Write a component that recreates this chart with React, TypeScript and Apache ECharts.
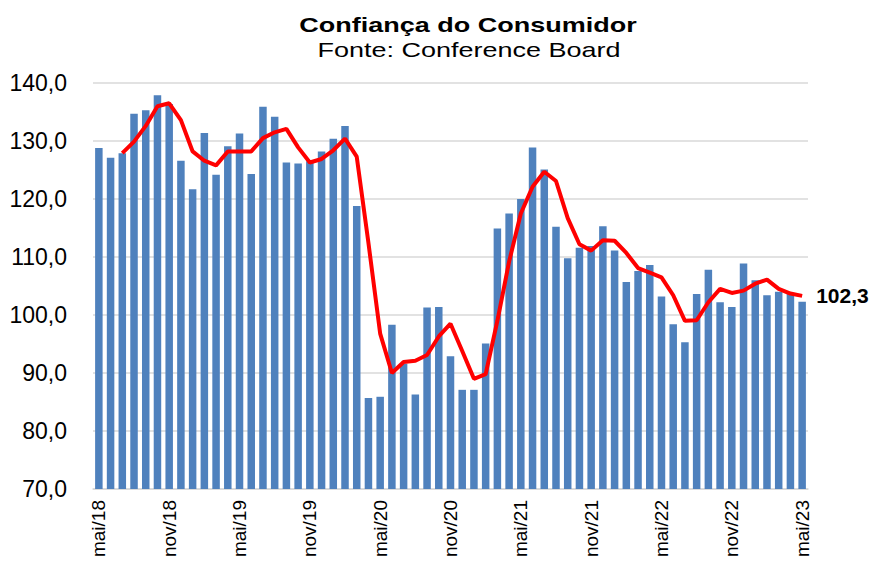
import React, { useEffect, useRef } from "react";
import * as echarts from "echarts";

const months = [
  "mai/18","jun/18","jul/18","ago/18","set/18","out/18","nov/18","dez/18",
  "jan/19","fev/19","mar/19","abr/19","mai/19","jun/19","jul/19","ago/19","set/19","out/19","nov/19","dez/19",
  "jan/20","fev/20","mar/20","abr/20","mai/20","jun/20","jul/20","ago/20","set/20","out/20","nov/20","dez/20",
  "jan/21","fev/21","mar/21","abr/21","mai/21","jun/21","jul/21","ago/21","set/21","out/21","nov/21","dez/21",
  "jan/22","fev/22","mar/22","abr/22","mai/22","jun/22","jul/22","ago/22","set/22","out/22","nov/22","dez/22",
  "jan/23","fev/23","mar/23","abr/23","mai/23",
];

const confidence = [
  128.8, 127.1, 127.9, 134.7, 135.3, 137.9, 136.4, 126.6,
  121.7, 131.4, 124.2, 129.1, 131.3, 124.3, 135.9, 134.2, 126.3, 126.1, 126.5, 128.2,
  130.4, 132.6, 118.8, 85.7, 85.9, 98.3, 91.6, 86.3, 101.3, 101.4, 92.9, 87.1,
  87.1, 95.1, 114.9, 117.5, 120.0, 128.9, 125.1, 115.2, 109.8, 111.6, 111.9, 115.3,
  111.1, 105.7, 107.6, 108.6, 103.2, 98.4, 95.3, 103.6, 107.8, 102.2, 101.4, 108.9,
  106.0, 103.4, 104.0, 103.7, 102.3,
];

// red line (3-month average as drawn in the reference), read point by point
const trend: (number | null)[] = [
  null, null, 127.9, 129.9, 132.6, 136.0, 136.5, 133.6,
  128.2, 126.6, 125.8, 128.2, 128.2, 128.2, 130.5, 131.5, 132.1, 128.9, 126.3, 126.9,
  128.4, 130.4, 127.3, 112.4, 96.8, 90.0, 91.9, 92.1, 93.1, 96.3, 98.5, 93.8,
  89.0, 89.8, 99.0, 109.2, 117.5, 122.1, 124.7, 123.1, 116.7, 112.2, 111.1, 112.9,
  112.8, 110.7, 108.1, 107.3, 106.5, 103.4, 99.0, 99.1, 102.2, 104.5, 103.8, 104.2,
  105.4, 106.1, 104.5, 103.7, 103.3,
];

const fmt = (v: number) => v.toFixed(1).replace(".", ",");

export default function App() {
  const ref = useRef<HTMLDivElement>(null);
  useEffect(() => {
    document.body.style.margin = "0";
    const chart = echarts.init(ref.current!, null, { renderer: "svg" });
    const font = "'Liberation Sans', Arial, sans-serif";
    chart.setOption({
      animation: false,
      textStyle: { fontFamily: font },
      graphic: [
        {
          type: "text",
          x: 468,
          y: 25,
          scaleX: 1.35,
          style: {
            text: "Confiança do Consumidor",
            fontSize: 20,
            fontWeight: "bold",
            fontFamily: font,
            fill: "#000",
            align: "center",
            verticalAlign: "middle",
          },
        },
        {
          type: "text",
          x: 469,
          y: 50,
          scaleX: 1.35,
          style: {
            text: "Fonte: Conference Board",
            fontSize: 20,
            fontFamily: font,
            fill: "#000",
            align: "center",
            verticalAlign: "middle",
          },
        },
      ],
      grid: {
        left: 93,
        right: 63,
        top: 83,
        bottom: 74,
        containLabel: false,
        outerBoundsMode: "none",
      },
      xAxis: {
        type: "category",
        data: months,
        boundaryGap: true,
        axisTick: { show: false },
        axisLine: { lineStyle: { color: "#d9d9d9", width: 1.5 } },
        axisLabel: {
          interval: 5,
          rotate: 90,
          fontSize: 19,
          color: "#000",
          margin: 11,
          fontFamily: font,
        },
      },
      yAxis: {
        type: "value",
        min: 70,
        max: 140,
        interval: 10,
        axisLine: { show: false },
        axisTick: { show: false },
        splitLine: { lineStyle: { color: "#d9d9d9", width: 1.5 } },
        axisLabel: {
          formatter: (v: number) => fmt(v),
          fontSize: 23,
          color: "#000",
          margin: 26,
          fontFamily: font,
        },
      },
      series: [
        {
          type: "bar",
          data: confidence,
          barCategoryGap: "36%",
          itemStyle: { color: "#4f81bd" },
        },
        {
          type: "line",
          data: trend,
          symbol: "none",
          smooth: false,
          lineStyle: { color: "#ff0000", width: 4 },
          endLabel: {
            show: true,
            formatter: () => fmt(confidence[confidence.length - 1]),
            fontSize: 21,
            fontWeight: "bold",
            color: "#000",
            distance: 14,
            fontFamily: font,
          },
        },
      ],
    });
    return () => chart.dispose();
  }, []);
  return <div ref={ref} style={{ width: 871, height: 563 }} />;
}
